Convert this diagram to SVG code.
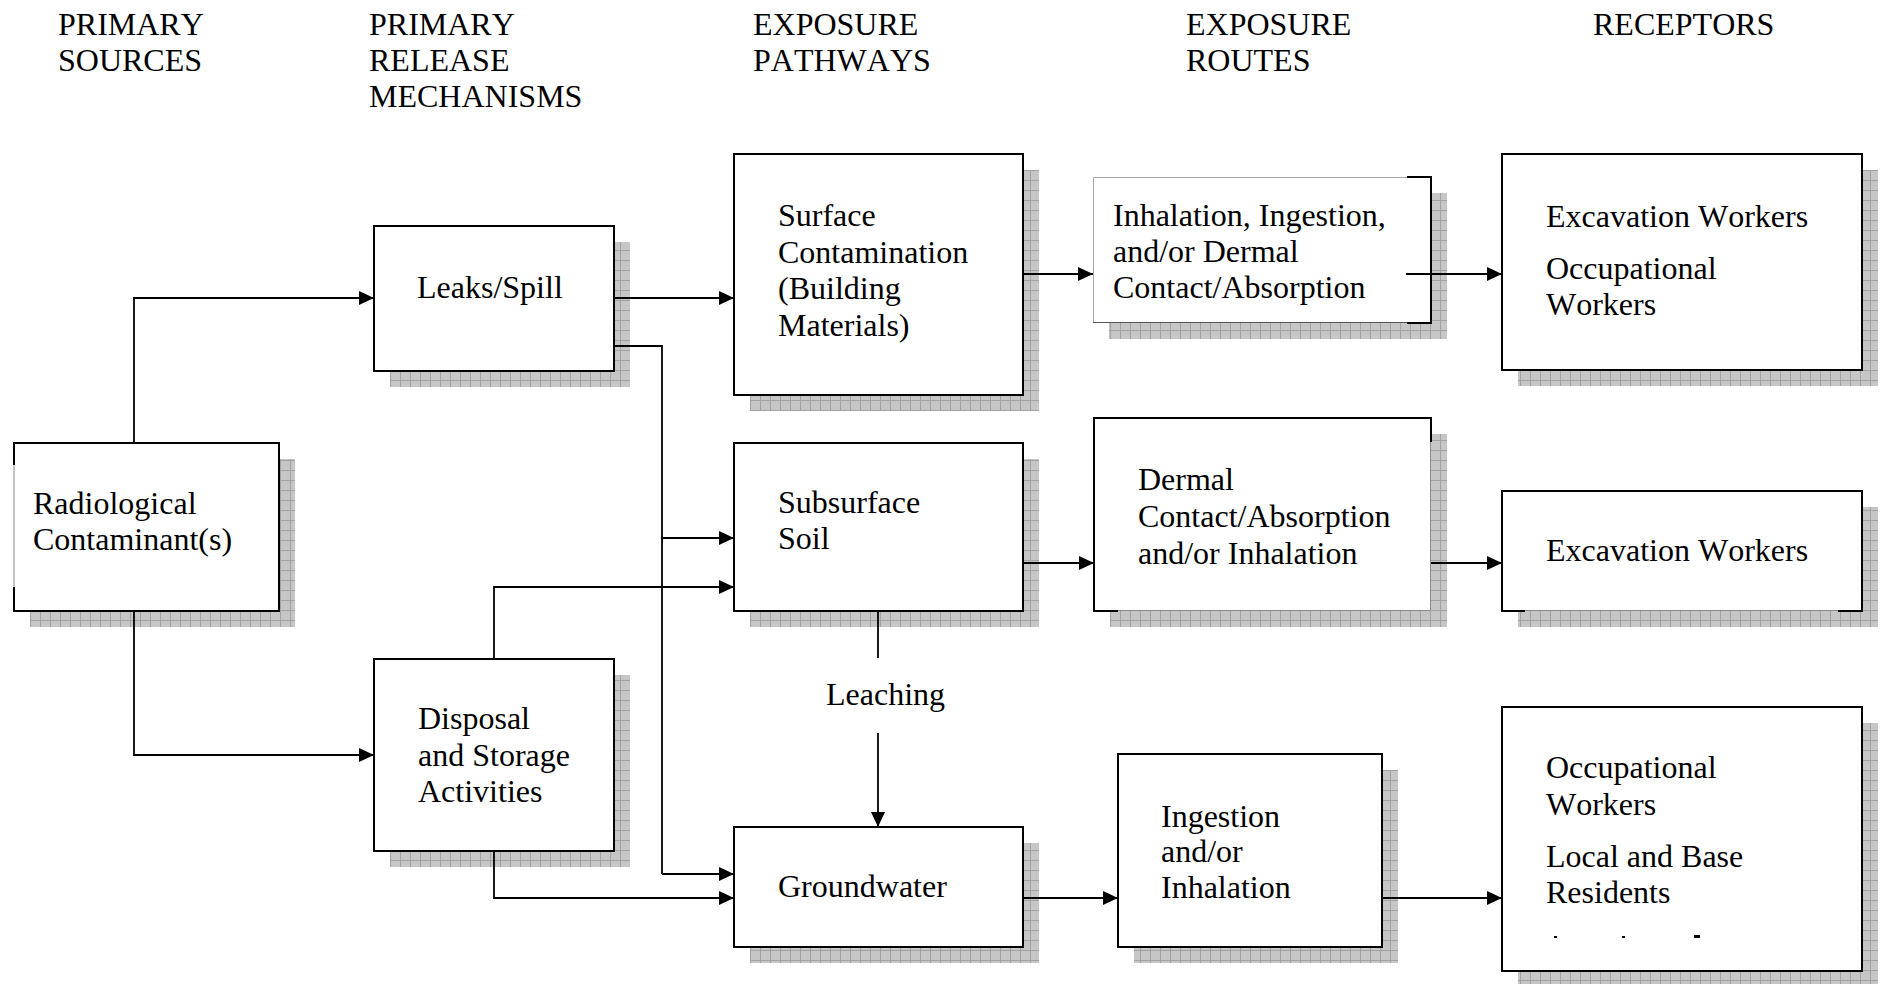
<svg xmlns="http://www.w3.org/2000/svg" width="1884" height="984" viewBox="0 0 1884 984">
<defs>
<pattern id="hatch" width="10" height="10" patternUnits="userSpaceOnUse">
<rect width="10" height="10" fill="#c6c6c6"/>
<path d="M0 0.5H10M0.5 0V10" stroke="#a2a2a2" stroke-width="1"/>
</pattern>
<marker id="arr" viewBox="0 0 15 14" refX="15" refY="7" markerWidth="15" markerHeight="14" markerUnits="userSpaceOnUse" orient="auto">
<path d="M0 0L15 7L0 14z" fill="#000"/>
</marker>
</defs>
<style>
text{font-family:"Liberation Serif","Times New Roman",serif;font-size:32px;fill:#000;font-kerning:none}
.sh{fill:url(#hatch)}
.bx{fill:#fff;stroke:#000;stroke-width:2}
.wb{fill:#fff;stroke:none}
.k{fill:none;stroke:#000;stroke-width:2}
.thin{fill:none;stroke:#8a8a8a;stroke-width:1}
.ln{fill:none;stroke:#000;stroke-width:1.8}
.ar{marker-end:url(#arr)}
</style>
<rect width="1884" height="984" fill="#fff"/>

<g id="headers">
<text x="58" y="35">PRIMARY</text>
<text x="58" y="71">SOURCES</text>
<text x="369" y="35">PRIMARY</text>
<text x="369" y="71">RELEASE</text>
<text x="369" y="107">MECHANISMS</text>
<text x="753" y="35">EXPOSURE</text>
<text x="753" y="71">PATHWAYS</text>
<text x="1186" y="35">EXPOSURE</text>
<text x="1186" y="71">ROUTES</text>
<text x="1593" y="35">RECEPTORS</text>
</g>

<g id="radiological">
<rect class="sh" x="30" y="459" width="265" height="168"/>
<rect class="wb" x="14" y="443" width="265" height="168"/>
<path class="k" d="M14 465V443H279V611H14V587"/>
<path class="thin" d="M14 465V587"/>
<text x="33" y="514">Radiological</text>
<text x="33" y="550">Contaminant(s)</text>
</g>

<g id="leaks">
<rect class="sh" x="390" y="242" width="240" height="145"/>
<rect class="bx" x="374" y="226" width="240" height="145"/>
<text x="417" y="298">Leaks/Spill</text>
</g>

<g id="disposal">
<rect class="sh" x="390" y="675" width="240" height="192"/>
<rect class="bx" x="374" y="659" width="240" height="192"/>
<text x="418" y="729">Disposal</text>
<text x="418" y="766">and Storage</text>
<text x="418" y="802">Activities</text>
</g>

<g id="surface">
<rect class="sh" x="750" y="170" width="289" height="241"/>
<rect class="bx" x="734" y="154" width="289" height="241"/>
<text x="778" y="226">Surface</text>
<text x="778" y="263">Contamination</text>
<text x="778" y="299">(Building</text>
<text x="778" y="336">Materials)</text>
</g>

<g id="subsurface">
<rect class="sh" x="750" y="459" width="289" height="168"/>
<rect class="bx" x="734" y="443" width="289" height="168"/>
<text x="778" y="513">Subsurface</text>
<text x="778" y="549">Soil</text>
</g>

<g id="groundwater">
<rect class="sh" x="750" y="843" width="289" height="120"/>
<rect class="bx" x="734" y="827" width="289" height="120"/>
<text x="778" y="897">Groundwater</text>
</g>

<g id="inhalation-route">
<rect class="sh" x="1109" y="193" width="338" height="146"/>
<rect class="wb" x="1093" y="177" width="338" height="146"/>
<path d="M1407 177.5H1093.5V323" fill="none" stroke="#a8a8a8" stroke-width="1"/>
<path d="M1093 322.5H1407" fill="none" stroke="#555" stroke-width="1.2"/>
<path class="k" d="M1407 177H1431V323H1407"/>
<text x="1113" y="226">Inhalation, Ingestion,</text>
<text x="1113" y="262">and/or Dermal</text>
<text x="1113" y="298">Contact/Absorption</text>
</g>

<g id="dermal-route">
<rect class="sh" x="1110" y="434" width="337" height="193"/>
<rect class="wb" x="1094" y="418" width="337" height="193"/>
<path class="k" d="M1118 611H1094V418H1431V442"/>
<path class="thin" d="M1118 610.5H1430.5V442"/>
<text x="1138" y="490">Dermal</text>
<text x="1138" y="527">Contact/Absorption</text>
<text x="1138" y="564">and/or Inhalation</text>
</g>

<g id="ingestion-route">
<rect class="sh" x="1134" y="770" width="264" height="193"/>
<rect class="bx" x="1118" y="754" width="264" height="193"/>
<text x="1161" y="827">Ingestion</text>
<text x="1161" y="862">and/or</text>
<text x="1161" y="898">Inhalation</text>
</g>

<g id="receptor-top">
<rect class="sh" x="1518" y="170" width="360" height="216"/>
<rect class="bx" x="1502" y="154" width="360" height="216"/>
<text x="1546" y="227">Excavation Workers</text>
<text x="1546" y="279">Occupational</text>
<text x="1546" y="315">Workers</text>
</g>

<g id="receptor-middle">
<rect class="sh" x="1518" y="507" width="360" height="120"/>
<rect class="wb" x="1502" y="491" width="360" height="120"/>
<path class="k" d="M1525 611H1502V491H1862V611H1838"/>
<path class="thin" d="M1525 610.5H1838"/>
<text x="1546" y="561">Excavation Workers</text>
</g>

<g id="receptor-bottom">
<rect class="sh" x="1518" y="723" width="360" height="264"/>
<rect class="bx" x="1502" y="707" width="360" height="264"/>
<text x="1546" y="778">Occupational</text>
<text x="1546" y="815">Workers</text>
<text x="1546" y="867">Local and Base</text>
<text x="1546" y="903">Residents</text>
<rect x="1554" y="936" width="3" height="2" fill="#000"/>
<rect x="1622" y="936" width="3" height="2" fill="#000"/>
<rect x="1694" y="935" width="6" height="3" fill="#000"/>
</g>

<g id="connectors">
<path class="ln ar" d="M134 443V298H374"/>
<path class="ln ar" d="M134 611V755H374"/>
<path class="ln ar" d="M614 298H734"/>
<path class="ln" d="M614 346H662V874"/>
<path class="ln ar" d="M662 538H734"/>
<path class="ln ar" d="M662 874H734"/>
<path class="ln ar" d="M494 659V587H734"/>
<path class="ln ar" d="M494 851V898H734"/>
<path class="ln" d="M878 611V658"/>
<text x="826" y="705">Leaching</text>
<path class="ln ar" d="M878 733V827"/>
<path class="ln ar" d="M1023 274H1093"/>
<path class="ln ar" d="M1406 274H1502"/>
<path class="ln ar" d="M1023 563H1094"/>
<path class="ln ar" d="M1431 563H1502"/>
<path class="ln ar" d="M1023 898H1118"/>
<path class="ln ar" d="M1382 898H1502"/>
</g>
</svg>
